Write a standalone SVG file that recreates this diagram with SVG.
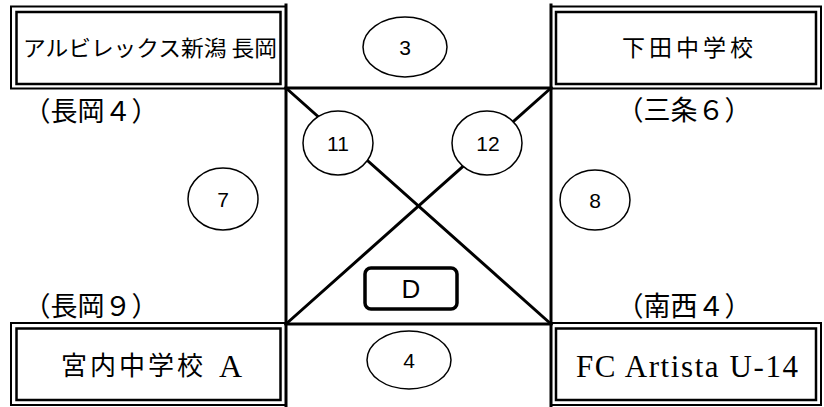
<svg xmlns="http://www.w3.org/2000/svg" width="824" height="407" viewBox="0 0 824 407">
<style>
.bg{fill:#fff}
.outer{fill:none;stroke:#000;stroke-width:2}
.inner{fill:none;stroke:#000;stroke-width:2.5}
.sq{fill:none;stroke:#000;stroke-width:3;stroke-linecap:square}
.ell{fill:#fff;stroke:#000;stroke-width:1.5}
.num{font-family:"Liberation Sans",Arial,sans-serif;font-size:21px;text-anchor:middle;fill:#000}
.big{font-size:26px}
.jp{font-family:"Noto Sans CJK JP","Noto Sans",sans-serif;fill:#000}
.lbl{font-family:"Noto Sans CJK JP","Noto Sans",sans-serif;font-size:27px;fill:#000}
.ser{font-family:"Liberation Serif","Times New Roman",serif;fill:#000}
</style>
<rect class="bg" x="0" y="0" width="824" height="407"/>
<g id="connectors">
<line class="sq" x1="286" y1="5" x2="286" y2="407"/>
<line class="sq" x1="551" y1="5" x2="551" y2="407"/>
<line class="sq" x1="286" y1="88" x2="551" y2="88"/>
<line class="sq" x1="286" y1="324" x2="551" y2="324"/>
<line class="sq" x1="286" y1="88" x2="551" y2="324"/>
<line class="sq" x1="551" y1="88" x2="286" y2="324"/>
</g>
<g id="team-albirex">
<rect class="outer" x="11" y="6.5" width="275" height="82"/>
<rect class="inner" x="16.5" y="12" width="264" height="72"/>
<text class="jp" x="23" y="56" font-size="21.5" textLength="254" lengthAdjust="spacingAndGlyphs">アルビレックス新潟 長岡</text>
</g>
<g id="team-shimoda">
<rect class="outer" x="551" y="6.5" width="270" height="82"/>
<rect class="inner" x="556" y="12" width="260" height="72"/>
<text class="jp" x="622" y="56" font-size="23" textLength="131" lengthAdjust="spacing">下田中学校</text>
</g>
<g id="team-miyauchi">
<rect class="outer" x="11" y="323" width="275" height="82"/>
<rect class="inner" x="16.5" y="328.5" width="264" height="71.5"/>
<text class="jp" x="61" y="375" font-size="26" textLength="142" lengthAdjust="spacing">宮内中学校</text>
<text class="ser" x="219" y="377" font-size="32">A</text>
</g>
<g id="team-artista">
<rect class="outer" x="551" y="323" width="270" height="82"/>
<rect class="inner" x="556" y="328.5" width="260" height="71.5"/>
<text class="ser" x="576" y="377" font-size="31" textLength="222" lengthAdjust="spacing">FC Artista U-14</text>
</g>
<g id="labels">
<text class="lbl" x="91" y="121" text-anchor="middle">（長岡４）</text>
<text class="lbl" x="684" y="120" text-anchor="middle">（三条６）</text>
<text class="lbl" x="91" y="316" text-anchor="middle">（長岡９）</text>
<text class="lbl" x="684" y="316" text-anchor="middle">（南西４）</text>
</g>
<g id="match-3"><ellipse class="ell" cx="405" cy="47" rx="42" ry="30"/><text class="num" x="405" y="55">3</text></g>
<g id="match-4"><ellipse class="ell" cx="409" cy="360" rx="42" ry="29"/><text class="num" x="409" y="368">4</text></g>
<g id="match-7"><ellipse class="ell" cx="223" cy="199" rx="35" ry="31"/><text class="num" x="223" y="207">7</text></g>
<g id="match-8"><ellipse class="ell" cx="595" cy="200" rx="35" ry="30"/><text class="num" x="595" y="208">8</text></g>
<g id="match-11"><ellipse class="ell" cx="338" cy="143" rx="35" ry="32"/><text class="num" x="338" y="151">11</text></g>
<g id="match-12"><ellipse class="ell" cx="487" cy="143" rx="35" ry="32"/><text class="num" x="488" y="151">12</text></g>
<g id="group-d">
<rect x="365" y="268" width="92" height="41" rx="6" fill="#fff" stroke="#000" stroke-width="3.5"/>
<text class="num big" x="411" y="298">D</text>
</g>
</svg>
